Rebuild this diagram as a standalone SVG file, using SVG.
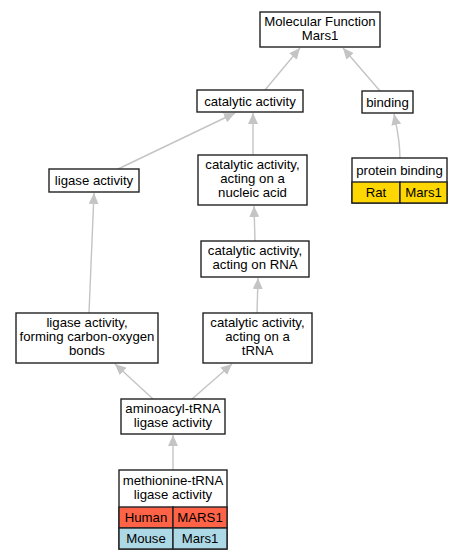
<svg xmlns="http://www.w3.org/2000/svg" width="461" height="560" viewBox="0 0 461 560">
<style>
text{font-family:"Liberation Sans",Arial,sans-serif;font-size:13.2px;fill:#000;text-anchor:middle}
.n{fill:#fff;stroke:#222;stroke-width:1.4}
.c{stroke:#222;stroke-width:1.4}
.e{fill:none;stroke:#c4c4c4;stroke-width:1.4;marker-end:url(#a)}
</style>
<defs>
<marker id="a" markerUnits="userSpaceOnUse" markerWidth="12" markerHeight="10" refX="11" refY="5" orient="auto" viewBox="0 0 12 10">
<path d="M0,0 L11,5 L0,10 Z" fill="#c4c4c4"/>
</marker>
</defs>
<rect width="461" height="560" fill="#fff"/>
<g id="edges">
<line class="e" x1="265" y1="90" x2="300" y2="48"/>
<line class="e" x1="380" y1="91" x2="343" y2="48"/>
<line class="e" x1="118" y1="169" x2="235" y2="113"/>
<line class="e" x1="253" y1="155" x2="253" y2="113"/>
<path class="e" d="M400,158 C400,140 397,128 394,114"/>
<line class="e" x1="89" y1="313" x2="94" y2="193"/>
<line class="e" x1="255" y1="241" x2="254" y2="206"/>
<line class="e" x1="257" y1="313" x2="258" y2="278"/>
<line class="e" x1="153" y1="399" x2="115" y2="364"/>
<line class="e" x1="192" y1="399" x2="232" y2="364"/>
<line class="e" x1="173" y1="470" x2="173" y2="435"/>
</g>
<g id="n_mf">
<rect class="n" x="260" y="12" width="120" height="35"/>
<text x="320" y="26">Molecular Function</text>
<text x="320" y="40">Mars1</text>
</g>
<g id="n_cat">
<rect class="n" x="197" y="90" width="106" height="22"/>
<text x="250" y="105.5">catalytic activity</text>
</g>
<g id="n_bind">
<rect class="n" x="362" y="91" width="51" height="22"/>
<text x="387.5" y="106.5">binding</text>
</g>
<g id="n_pb">
<rect class="n" x="352" y="158" width="95" height="45"/>
<rect x="352" y="182" width="48" height="21" fill="#ffd700" class="c"/>
<rect x="400" y="182" width="47" height="21" fill="#ffd700" class="c"/>
<text x="399.5" y="174.5">protein binding</text>
<text x="376" y="197">Rat</text>
<text x="423.5" y="197">Mars1</text>
</g>
<g id="n_lig">
<rect class="n" x="49" y="169" width="90" height="23"/>
<text x="94" y="185">ligase activity</text>
</g>
<g id="n_nuc">
<rect class="n" x="198" y="155" width="109" height="50"/>
<text x="252.5" y="169">catalytic activity,</text>
<text x="252.5" y="183">acting on a</text>
<text x="252.5" y="197">nucleic acid</text>
</g>
<g id="n_rna">
<rect class="n" x="201" y="241" width="108" height="36"/>
<text x="255" y="255">catalytic activity,</text>
<text x="255" y="269">acting on RNA</text>
</g>
<g id="n_co">
<rect class="n" x="16" y="313" width="142" height="50"/>
<text x="87" y="327">ligase activity,</text>
<text x="87" y="341">forming carbon-oxygen</text>
<text x="87" y="355">bonds</text>
</g>
<g id="n_trna">
<rect class="n" x="203" y="313" width="109" height="50"/>
<text x="257.5" y="327">catalytic activity,</text>
<text x="257.5" y="341">acting on a</text>
<text x="257.5" y="355">tRNA</text>
</g>
<g id="n_amino">
<rect class="n" x="121" y="399" width="104" height="35"/>
<text x="173" y="413">aminoacyl-tRNA</text>
<text x="173" y="427">ligase activity</text>
</g>
<g id="n_met">
<rect class="n" x="119" y="470" width="108" height="79"/>
<rect x="119" y="507" width="54" height="21" fill="#ff6347" class="c"/>
<rect x="173" y="507" width="54" height="21" fill="#ff6347" class="c"/>
<rect x="119" y="528" width="54" height="21" fill="#add8e6" class="c"/>
<rect x="173" y="528" width="54" height="21" fill="#add8e6" class="c"/>
<text x="173" y="485">methionine-tRNA</text>
<text x="173" y="499">ligase activity</text>
<text x="146" y="522">Human</text>
<text x="200" y="522">MARS1</text>
<text x="146" y="543">Mouse</text>
<text x="200" y="543">Mars1</text>
</g>
</svg>
